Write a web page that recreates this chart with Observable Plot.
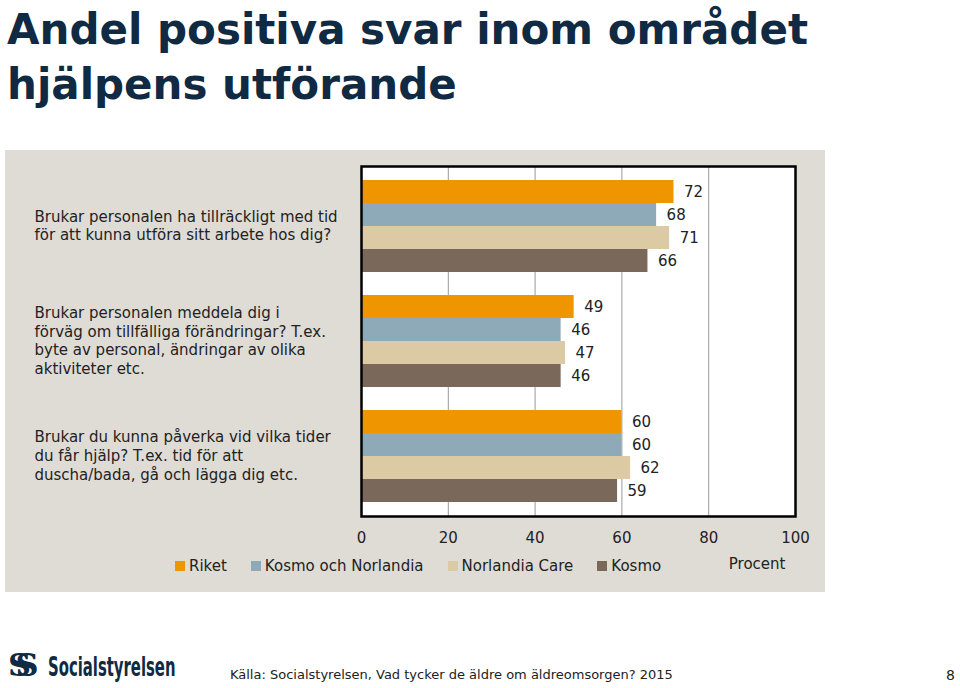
<!DOCTYPE html>
<html>
<head>
<meta charset="utf-8">
<script src="https://cdn.jsdelivr.net/npm/d3@7"></script>
<script src="https://cdn.jsdelivr.net/npm/@observablehq/plot@0.6"></script>
<style>
  html, body { margin: 0; padding: 0; background: #ffffff; }
  body { width: 960px; height: 688px; position: relative; overflow: hidden; font-family: "DejaVu Sans", sans-serif; color: #222; }
  #title { position: absolute; left: 7px; top: 2px; font-family: "DejaVu Sans", sans-serif; font-weight: bold; font-size: 42px; line-height: 55px; color: #0f2a42; letter-spacing: 0px; }
  #panel { position: absolute; left: 5px; top: 150px; width: 820px; height: 442px; background: #dfdcd6; }
  #legend { position: absolute; left: 175px; top: 557px; display: flex; align-items: center; font-size: 15px; color: #222; }
  #legend .item { display: flex; align-items: center; margin-right: 24px; }
  #legend .sw { width: 10px; height: 10px; margin-right: 4px; }
  #logo { position: absolute; left: 8px; top: 646px; height: 38px; color: #0f2a42; }
  #logo .sym { position: absolute; left: 0; top: 0; font-family: "DejaVu Serif", serif; font-weight: bold; font-size: 32px; letter-spacing: -15px; line-height: 38px; }
  #logo .name { position: absolute; left: 40px; top: 4px; font-family: "DejaVu Sans", sans-serif; font-weight: bold; font-size: 27px; line-height: 34px; transform: scaleX(0.55); transform-origin: left center; white-space: nowrap; }
  #source { position: absolute; left: 230px; top: 667px; font-size: 13px; color: #222; }
  #page { position: absolute; left: 946px; top: 667px; font-size: 14px; color: #222; }
</style>
</head>
<body>
<div id="title">Andel positiva svar inom området<br>hjälpens utförande</div>
<div id="panel"></div>
<div id="legend"></div>
<div id="logo"><span class="sym">SS</span><span class="name">Socialstyrelsen</span></div>
<div id="source">Källa: Socialstyrelsen, Vad tycker de äldre om äldreomsorgen? 2015</div>
<div id="page">8</div>
<script>
// ---- data ----
const questions = [
  "Brukar personalen ha tillräckligt med tid\nför att kunna utföra sitt arbete hos dig?",
  "Brukar personalen meddela dig i\nförväg om tillfälliga förändringar? T.ex.\nbyte av personal, ändringar av olika\naktiviteter etc.",
  "Brukar du kunna påverka vid vilka tider\ndu får hjälp? T.ex. tid för att\nduscha/bada, gå och lägga dig etc."
];
const seriesNames = ["Riket", "Kosmo och Norlandia", "Norlandia Care", "Kosmo"];
const riket = [72, 49, 60];
const kosmoOchNorlandia = [68, 46, 60];
const norlandiaCare = [71, 47, 62];
const kosmo = [66, 46, 59];
const seriesColors = ["#ef9500", "#8eaab8", "#dccaa5", "#7a685b"];
const xTicks = [0, 20, 40, 60, 80, 100];
const gridTicks = [20, 40, 60, 80];
const axisLabel = "Procent";

// ---- build table ----
const seriesValues = [riket, kosmoOchNorlandia, norlandiaCare, kosmo];
const key = (qi, s) => `${qi}|${s}`;
const rows = questions.flatMap((q, qi) =>
  seriesNames.map((s, si) => ({ q: qi, s, value: seriesValues[si][qi], key: key(qi, s) }))
);
const yDomain = questions.flatMap((q, qi) => {
  const ks = seriesNames.map(s => key(qi, s));
  return qi < questions.length - 1 ? [...ks, `${qi}|gap`] : ks;
});

const font = "DejaVu Sans, sans-serif";
const chart = Plot.plot({
  width: 820,
  height: 442,
  marginLeft: 356,
  marginRight: 30,
  marginTop: 16,
  marginBottom: 76,
  style: { background: "transparent", fontFamily: font, fontSize: "15px", color: "#222", overflow: "visible" },
  x: { domain: [0, 100], ticks: xTicks, tickSize: 0, label: null },
  y: { type: "band", domain: yDomain, paddingInner: 0, paddingOuter: 0.5, axis: null },
  color: { domain: seriesNames, range: seriesColors },
  marks: [
    Plot.frame({ fill: "white", stroke: null }),
    Plot.ruleX(gridTicks, { stroke: "#9a9a9a", strokeWidth: 1 }),
    Plot.barX(rows, { y: "key", x: "value", fill: "s", inset: 0 }),
    Plot.text(rows, { y: "key", x: "value", text: d => String(d.value), dx: 10, textAnchor: "start", fontSize: 15, fill: "#222" }),
    Plot.text(questions, {
      frameAnchor: "left",
      y: (d, i) => key(i, seriesNames[1]),
      dy: 10,
      dx: -327,
      text: d => d,
      textAnchor: "start",
      lineAnchor: "middle",
      lineHeight: 1.24,
      fontSize: 15,
      fill: "#222"
    }),
    Plot.text([axisLabel], { frameAnchor: "bottom-right", text: d => d, dy: 52, dx: -10, textAnchor: "end", fontSize: 15, fill: "#222" }),
    Plot.axisX({ ticks: xTicks, tickSize: 0, tickPadding: 16, fontSize: 15, label: null }),
    Plot.frame({ stroke: "#000", strokeWidth: 2.5, fill: "none" })
  ]
});
document.getElementById("panel").appendChild(chart);

// legend
const legend = document.getElementById("legend");
seriesNames.forEach((s, i) => {
  const it = document.createElement("div");
  it.className = "item";
  const sw = document.createElement("span");
  sw.className = "sw";
  sw.style.background = seriesColors[i];
  const t = document.createElement("span");
  t.textContent = s;
  it.appendChild(sw); it.appendChild(t);
  legend.appendChild(it);
});
</script>
</body>
</html>
